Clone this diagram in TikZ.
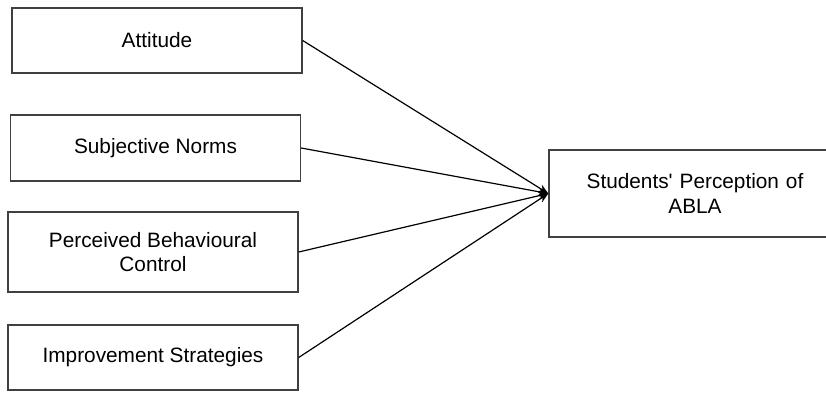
\documentclass[tikz,border=0pt]{standalone}
\usepackage{fontspec}
\setmainfont{Liberation Sans}
\usetikzlibrary{arrows.meta,positioning}

\begin{document}
\begin{tikzpicture}[x=0.5pt, y=-0.5pt, semithick, >={Stealth[length=5pt,width=4pt]}]
	\tikzstyle{factor}=[draw=black!75, line width=0.7pt, fill=white, align=center, inner sep=0pt,
		minimum width=145pt, font=\fontsize{10.4}{12.4}\selectfont]
	\useasboundingbox (0,0) rectangle (826,392);
	\node[factor, minimum height=32.5pt] (att)  at (157,40.5)  {Attitude};
	\node[factor, minimum height=33pt]   (sn)   at (155.5,148) {Subjective Norms};
	\node[factor, minimum height=40pt]   (pbc)  at (153,252)   {Perceived Behavioural\\Control};
	\node[factor, minimum height=32.5pt] (imp)  at (153,357.5) {Improvement Strategies};
	\node[factor, minimum width=146pt, minimum height=43.5pt, text width=141pt] (abla) at (695,193.5)
		{Students\textquotesingle{} Perception of\\ABLA};
	\path[->]
	(att.east) edge (abla.west)
	(sn.east)  edge (abla.west)
	(pbc.east) edge (abla.west)
	(imp.east) edge (abla.west);
\end{tikzpicture}
\end{document}
